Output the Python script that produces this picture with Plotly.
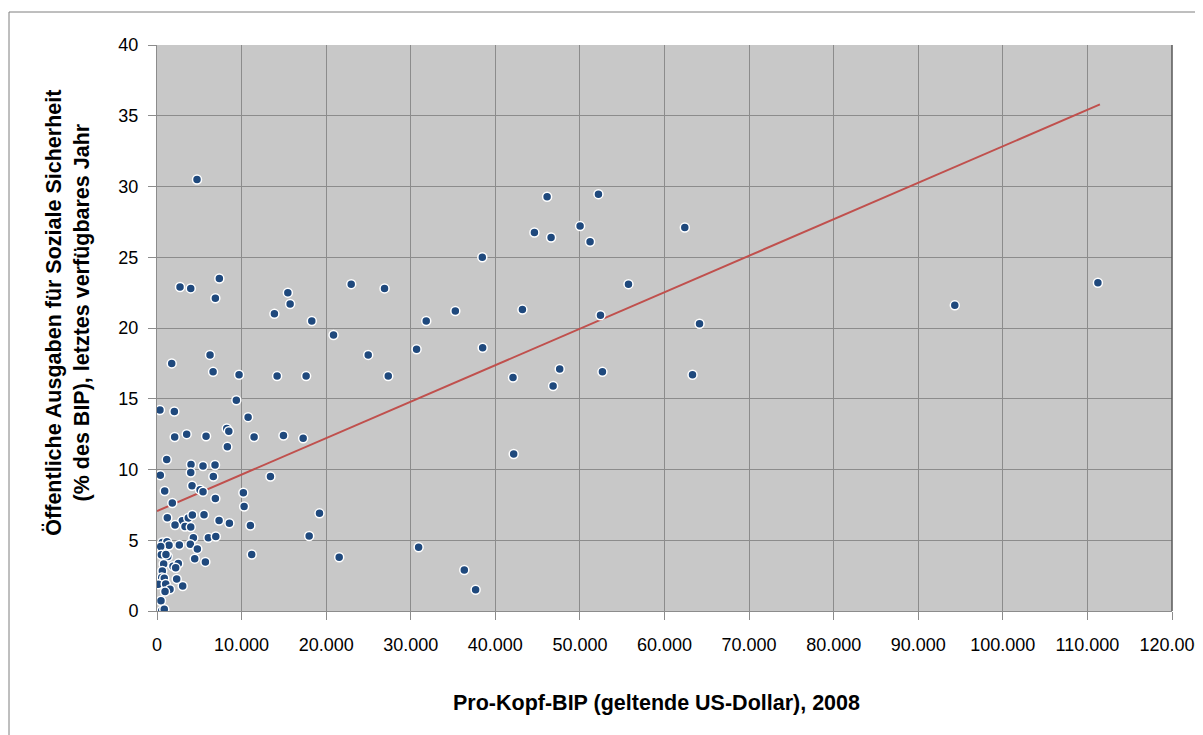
import plotly.graph_objects as go

# Pro-Kopf-BIP (US-Dollar, 2008)
gdp = [
    4730, 2720, 3990, 7370, 6900, 6270, 1740, 6630, 9700, 14200,
    9380, 350, 2050, 10770, 8250, 8490, 2090, 3510, 5800, 11480,
    14950, 8320, 1150, 4020, 5440, 6860, 390, 3990, 6660, 13410,
    910, 4140, 5090, 5440, 10210, 1810, 6900, 10300, 1220, 2990,
    3700, 4180, 5560, 7340, 8560, 11040, 2130, 3310, 3990, 4300,
    6070, 6950, 630, 1180, 1420, 2640, 3940, 4770, 440, 510,
    1270, 1060, 4460, 5720, 11200, 790, 1890, 2520, 2210, 630,
    2330, 560, 860, 3040, 150, 1030, 1540, 950, 470, 560,
    860,
    13880, 15470, 15740, 18300, 17630, 17280, 19210, 17990,
    20870, 22960, 26900, 24970, 27340, 21540, 30690, 31830, 30930, 35270,
    36330, 37670, 38460, 38500, 42090, 42170, 43200, 44620, 46120, 46590,
    46830, 47610, 50020, 51200, 52190, 52430, 52660, 55740, 62400, 63310,
    64140, 94320, 111240,
]
# Öffentliche Ausgaben für Soziale Sicherheit (% des BIP)
social = [
    30.5, 22.9, 22.8, 23.5, 22.1, 18.1, 17.5, 16.9, 16.7, 16.6,
    14.9, 14.2, 14.1, 13.7, 12.9, 12.7, 12.3, 12.5, 12.35, 12.3,
    12.4, 11.6, 10.7, 10.36, 10.25, 10.32, 9.6, 9.79, 9.51, 9.51,
    8.48, 8.85, 8.57, 8.43, 8.36, 7.63, 7.95, 7.39, 6.59, 6.37,
    6.57, 6.78, 6.8, 6.4, 6.2, 6.04, 6.07, 5.97, 5.93, 5.17,
    5.17, 5.26, 4.84, 4.89, 4.65, 4.67, 4.72, 4.39, 4.55, 3.97,
    3.85, 4.0, 3.7, 3.47, 3.99, 3.33, 3.17, 3.35, 3.05, 2.83,
    2.27, 2.36, 2.32, 1.77, 1.89, 1.91, 1.54, 1.37, 0.73, 0.02,
    0.12,
    21.0, 22.5, 21.7, 20.5, 16.6, 12.2, 6.9, 5.3,
    19.5, 23.1, 22.8, 18.1, 16.6, 3.8, 18.5, 20.5, 4.5, 21.2,
    2.9, 1.5, 25.0, 18.6, 16.5, 11.1, 21.3, 26.75, 29.27, 26.4,
    15.9, 17.1, 27.2, 26.1, 29.46, 20.9, 16.9, 23.1, 27.1, 16.7,
    20.3, 21.6, 23.2,
]
# linear trendline
trend_x = [0, 111480]
trend_y = [7.06, 35.8]

x_ticks = list(range(0, 120001, 10000))
y_ticks = list(range(0, 41, 5))

FONT = "Liberation Sans Narrow, Arial Narrow, Liberation Sans, Arial, sans-serif"

fig = go.Figure()
fig.add_trace(go.Scatter(
    x=trend_x, y=trend_y, mode="lines",
    line=dict(color="#C0504D", width=2), hoverinfo="skip", showlegend=False,
))
fig.add_trace(go.Scatter(
    x=gdp, y=social, mode="markers",
    marker=dict(color="#1F497D", size=9, line=dict(color="white", width=1.5)),
    showlegend=False,
))

fig.update_layout(
    width=1195, height=727, autosize=False,
    margin=dict(l=149, r=31, t=37, b=124, autoexpand=False),
    paper_bgcolor="white", plot_bgcolor="#C8C8C8",
    separators=",.",
    font=dict(family=FONT, size=18, color="black"),
    xaxis=dict(
        range=[0, 120000], tickvals=x_ticks, tickformat=",.0f",
        showgrid=True, gridcolor="#8C8C8C", gridwidth=1,
        zeroline=False, showline=True, linecolor="#8C8C8C", linewidth=1,
        ticks="outside", ticklen=8, tickcolor="#8C8C8C",
        ticklabeloverflow="allow", ticklabelstandoff=9,
        automargin=False, mirror=False, fixedrange=True,
    ),
    yaxis=dict(
        range=[0, 40], tickvals=y_ticks,
        showgrid=True, gridcolor="#8C8C8C", gridwidth=1,
        zeroline=False, showline=True, linecolor="#8C8C8C", linewidth=1,
        ticks="outside", ticklen=8, tickcolor="#8C8C8C",
        ticklabelstandoff=6,
        automargin=False, fixedrange=True,
    ),
    annotations=[
        dict(text="<b>Pro-Kopf-BIP (geltende US-Dollar), 2008</b>",
             xref="paper", yref="paper", x=0.4926, y=-0.1625,
             showarrow=False, xanchor="center", yanchor="middle",
             font=dict(size=21.5)),
        dict(text="<b>Öffentliche Ausgaben für Soziale Sicherheit<br>(% des BIP), letztes verfügbares Jahr</b>",
             xref="paper", yref="paper", x=-0.0882, y=0.528,
             showarrow=False, textangle=-90, xanchor="center", yanchor="middle",
             font=dict(size=21.5)),
    ],
    shapes=[
        dict(type="rect", xref="paper", yref="paper",
             x0=-0.1458, y0=-0.3, x1=1.1, y1=1.0583,
             line=dict(color="#7F7F7F", width=1), fillcolor="rgba(0,0,0,0)",
             layer="below"),
        dict(type="line", xref="paper", yref="paper",
             x0=1, x1=1, y0=0, y1=1,
             line=dict(color="#595959", width=1.5)),
    ],
)

fig.write_html("out.html")
